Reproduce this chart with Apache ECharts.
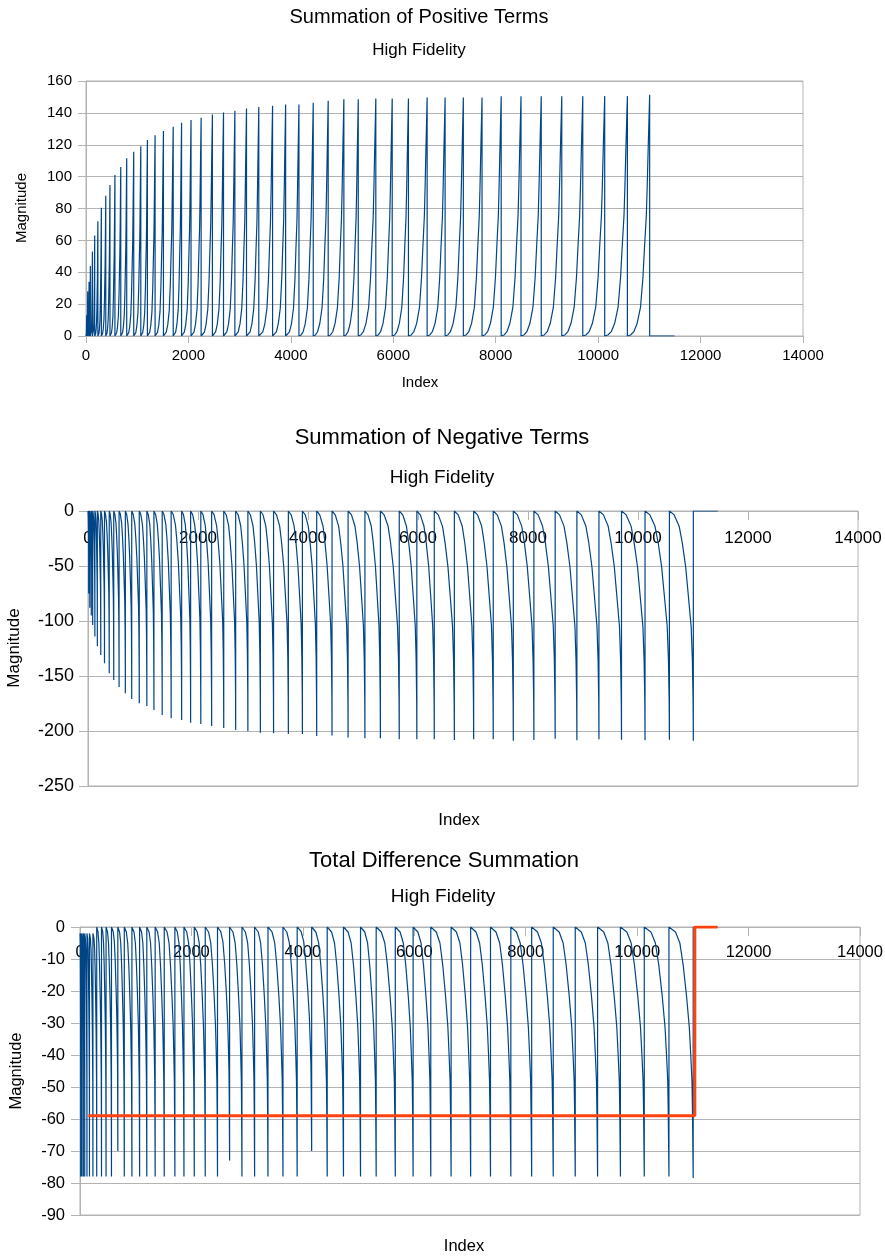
<!DOCTYPE html>
<html><head><meta charset="utf-8">
<script src="https://cdn.jsdelivr.net/npm/echarts@6/dist/echarts.min.js"></script>
<style>html,body{margin:0;padding:0;background:#fff}#c{width:885px;height:1259px}</style>
</head><body><div id="c"></div>
<script>
// ---- data ----
// index where each tooth ends (shared by the three charts)
const toothEnd = [13, 33, 60, 85, 125, 170, 232, 300, 386, 468,
  565, 679, 795, 932, 1070, 1199, 1349, 1512, 1703, 1866,
  2051, 2248, 2468, 2685, 2907, 3134, 3374, 3643, 3898, 4158,
  4437, 4729, 5035, 5316, 5659, 5979, 6296, 6661, 7012, 7368,
  7733, 8107, 8494, 8889, 9290, 9700, 10128, 10571, 11006];
// peak of each tooth, positive sum
const posPeak = [13, 28, 34, 44, 53, 63, 72, 80.5, 88, 94.7,
  101, 106, 111.5, 115.6, 119, 123, 126, 128.6, 131.3, 133.8,
  135.5, 137, 139, 140.3, 141.3, 142.8, 143.7, 144.5, 145.3, 145.3,
  146.4, 147.6, 148.5, 148.5, 149, 149, 149, 149.7, 149.7, 149.7,
  149.7, 150.5, 150.5, 150.5, 150.5, 150.5, 150.5, 150.5, 151.4];
// trough of each tooth, negative sum
const negTrough = [-75, -88, -95, -103.6, -114, -123, -131, -138.5, -147.6, -153.6,
  -160, -165.7, -171, -174.8, -177.3, -181, -185.5, -188.5, -190, -192.4,
  -193.6, -195.5, -197.3, -199, -200, -201.5, -202, -202.7, -202.7, -204.5,
  -204, -206, -206.7, -206.7, -207.6, -207.6, -207.6, -208.2, -207.6, -207.6,
  -208.8, -208.2, -207, -208.5, -207.5, -208, -208.5, -208, -208.8];
// start and end level of each tooth, total difference
const diffTop = [-2, -2, -2, -2, -2, -2, -2, -2, 0, 0,
  0, 0, 0, 0, 0, 0, 0, 0, 0, 0,
  0, 0, 0, 0, 0, 0, 0, 0, 0, 0,
  0, 0, 0, 0, 0, 0, 0, 0, 0, 0,
  0, 0, 0, 0, 0, 0, 0, 0, 0];
const diffBottom = [-78, -78, -78, -78, -78, -78, -78, -78, -78, -78,
  -78, -70, -78, -78, -78, -78, -78, -78, -78, -78,
  -78, -78, -78, -73, -78, -78, -78, -78, -78, -70,
  -78, -78, -78, -78, -78, -78, -78, -78, -78, -78,
  -78, -78, -78, -78, -78, -78, -78, -78, -78.4];
// tooth profile (fraction of tooth length, fraction of tooth depth)
const posShapeT = [0, 0.14, 0.29, 0.44, 0.59, 0.70, 0.77, 0.85, 0.89, 0.94, 1];
const posShapeF = [0, 0.004, 0.018, 0.053, 0.12, 0.245, 0.37, 0.5, 0.62, 0.8, 1];
const negShapeT = [0, 0.2, 0.41, 0.54, 0.68, 0.81, 0.91, 0.96, 0.99, 1];
const negShapeF = [0, 0.017, 0.067, 0.14, 0.243, 0.39, 0.505, 0.65, 0.83, 1];
const diffShapeT = [0, 0.27, 0.45, 0.59, 0.73, 0.84, 0.90, 0.95, 0.97, 1];
const diffShapeF = [0, 0.02, 0.064, 0.154, 0.28, 0.40, 0.51, 0.615, 0.73, 1];
// flat tail after the last tooth
const posTailEnd = 11490;
const negTailEnd = 11450;
const diffTailEnd = 11450;
// orange level line of the difference chart
const levelX = [150, 11035, 11035, 11440];
const levelY = [-59, -59, 0, 0];
// axes
const xTicks = [0, 2000, 4000, 6000, 8000, 10000, 12000, 14000];
const posYTicks = [0, 20, 40, 60, 80, 100, 120, 140, 160];
const negYTicks = [-250, -200, -150, -100, -50, 0];
const diffYTicks = [-90, -80, -70, -60, -50, -40, -30, -20, -10, 0];

// ---- build ----
function teeth(ends, ext, tops, sT, sF, tail) {
  const pts = [];
  let start = 0;
  for (let i = 0; i < ends.length; i++) {
    const end = ends[i];
    const top = tops ? tops[i] : 0;
    for (let j = 0; j < sT.length; j++) {
      pts.push([start + sT[j] * (end - start), top + sF[j] * (ext[i] - top)]);
    }
    start = end;
  }
  pts.push([start, 0]);
  pts.push([tail, 0]);
  return pts;
}
const posData = teeth(toothEnd, posPeak, null, posShapeT, posShapeF, posTailEnd);
const negData = teeth(toothEnd, negTrough, null, negShapeT, negShapeF, negTailEnd);
const diffData = teeth(toothEnd, diffBottom, diffTop, diffShapeT, diffShapeF, diffTailEnd);
const levelData = levelX.map((x, i) => [x, levelY[i]]);

const FONT = 'Liberation Sans';
const GRAY = '#b3b3b3';
const BLUE = '#004586';
const ORANGE = '#ff420e';

function rng(t) { return {min: t[0], max: t[t.length - 1], interval: t[1] - t[0]}; }
const plain = v => String(v);

function xAx(gi, top, size, margin) {
  return Object.assign({
    gridIndex: gi, type: 'value',
    position: top ? 'top' : 'bottom',
    axisLine: {show: true, onZero: false, lineStyle: {color: GRAY, width: 1}},
    axisTick: {show: true, inside: !!top, length: top ? 9 : 7, lineStyle: {color: GRAY}},
    axisLabel: {inside: !!top, margin: margin, fontSize: size, fontFamily: FONT, color: '#000', formatter: plain},
    splitLine: {show: false}
  }, rng(xTicks));
}
function yAx(gi, ticks, size, margin, tick) {
  return Object.assign({
    gridIndex: gi, type: 'value',
    axisLine: {show: true, onZero: false, lineStyle: {color: GRAY, width: 1}},
    axisTick: {show: true, length: tick, lineStyle: {color: GRAY}},
    axisLabel: {margin: margin, fontSize: size, fontFamily: FONT, color: '#000', formatter: plain},
    splitLine: {show: true, lineStyle: {color: GRAY, width: 1}}
  }, rng(ticks));
}
function txt(s, x, y, size, rot) {
  return {type: 'text', x: x, y: y, rotation: rot ? Math.PI / 2 : 0, silent: true,
    style: {text: s, fontSize: size, fontFamily: FONT, fill: '#000',
      textAlign: 'center', textVerticalAlign: 'middle', align: 'center', verticalAlign: 'middle'}};
}
function line(xi, data, color, width) {
  return {type: 'line', xAxisIndex: xi, yAxisIndex: xi, data: data, showSymbol: false, symbol: 'none',
    lineStyle: {color: color, width: width}, itemStyle: {color: color}, animation: false, silent: true};
}
const gridBase = {show: true, borderColor: GRAY, borderWidth: 1, containLabel: false, outerBoundsMode: 'none'};

const chart = echarts.init(document.getElementById('c'), null, {renderer: 'canvas', width: 885, height: 1259});
chart.setOption({
  backgroundColor: '#fff',
  animation: false,
  grid: [
    Object.assign({left: 86, top: 81, width: 717, height: 255}, gridBase),
    Object.assign({left: 88, top: 511, width: 770, height: 275}, gridBase),
    Object.assign({left: 80, top: 927, width: 780, height: 288}, gridBase)
  ],
  xAxis: [xAx(0, false, 15, 12), xAx(1, true, 17, 19), xAx(2, true, 16.5, 17)],
  yAxis: [yAx(0, posYTicks, 15, 14, 8), yAx(1, negYTicks, 18, 14, 9), yAx(2, diffYTicks, 16.5, 15, 9)],
  series: [
    line(0, posData, BLUE, 1.2),
    line(1, negData, BLUE, 1.2),
    line(2, diffData, BLUE, 1.2),
    line(2, levelData, ORANGE, 3)
  ],
  graphic: [
    txt('Summation of Positive Terms', 419, 17, 20),
    txt('High Fidelity', 419, 50, 17),
    txt('Magnitude', 22, 208, 15, true),
    txt('Index', 420, 383, 15),
    txt('Summation of Negative Terms', 442, 438, 22),
    txt('High Fidelity', 442, 478, 19),
    txt('Magnitude', 14, 648, 17, true),
    txt('Index', 459, 820, 17),
    txt('Total Difference Summation', 444, 861, 22),
    txt('High Fidelity', 443, 897, 19),
    txt('Magnitude', 16, 1071, 16.5, true),
    txt('Index', 464, 1246, 16.5)
  ]
});
</script></body></html>
